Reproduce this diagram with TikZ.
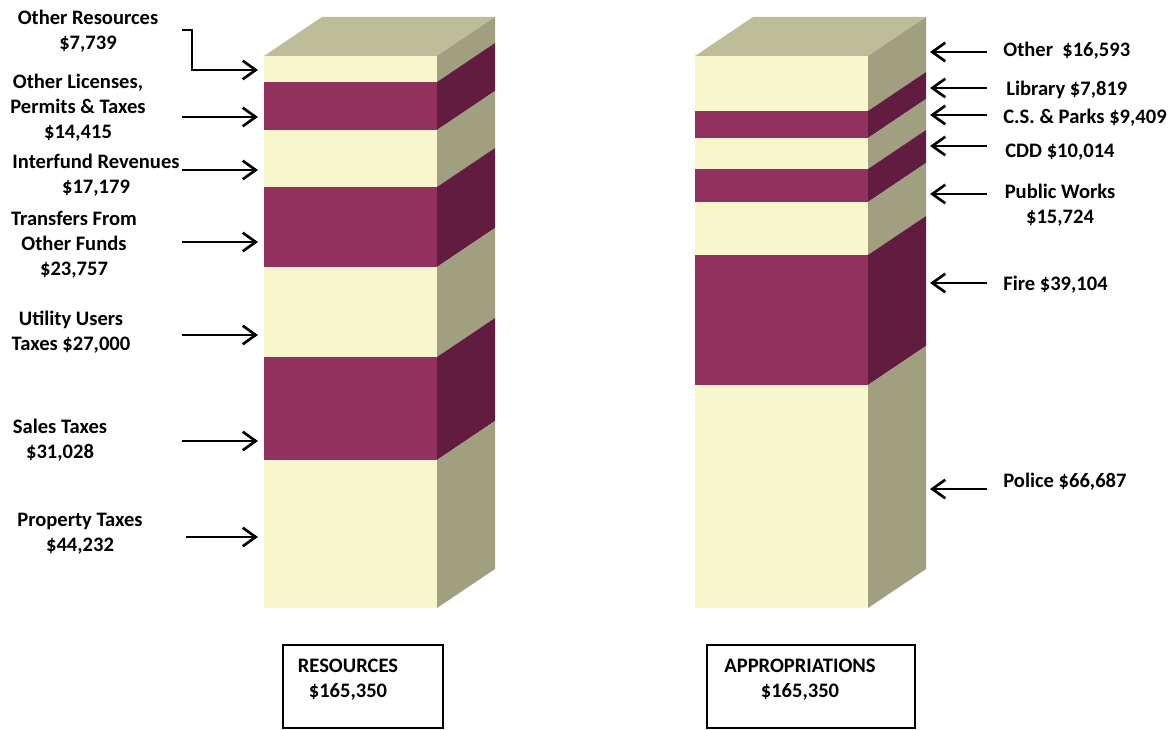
\documentclass[tikz,border=0pt]{standalone}
\usepackage{fontspec}
\setmainfont{Carlito}
\usetikzlibrary{arrows.meta}
\definecolor{creamfront}{HTML}{F8F6CC}
\definecolor{creamside}{HTML}{A09F80}
\definecolor{plumfront}{HTML}{92305E}
\definecolor{plumside}{HTML}{611C3F}
\definecolor{lidtop}{HTML}{BDBD9A}
\tikzset{
  lab/.style={font=\fontsize{11.7}{14.2}\selectfont\bfseries, align=center, inner sep=0pt},
  rlab/.style={lab, anchor=west},
  arr/.style={-{Straight Barb[length=2.6mm,width=3.7mm,line width=1.5pt]}, line width=1.3pt},
  totbox/.style={draw, line width=0.9pt, minimum width=32mm, minimum height=16.6mm, inner sep=0pt}
}
% one slice of a bar: \slice{left x}{top y}{bottom y}{front}{side}
\newcommand\slice[5]{%
  \fill[#4] (#1,#2) rectangle (#1+173,#3);
  \fill[#5] (#1+173,#2) -- (#1+173,#3) -- (#1+231,#3-39) -- (#1+231,#2-39) -- cycle;
}
\begin{document}
\begin{tikzpicture}[x=0.2mm,y=-0.2mm]
  \useasboundingbox (0,0) rectangle (1173,730);
  % left bar
  \fill[lidtop] (264,56) -- (322,17) -- (495,17) -- (437,56) -- cycle;
  \foreach \ya/\yb/\fr/\sd in {56/82/creamfront/creamside, 82/130/plumfront/plumside,
      130/187/creamfront/creamside, 187/267/plumfront/plumside, 267/357/creamfront/creamside,
      357/460/plumfront/plumside, 460/608/creamfront/creamside}
    {\slice{264}{\ya}{\yb}{\fr}{\sd}}
  % right bar
  \fill[lidtop] (695,56) -- (753,17) -- (926,17) -- (868,56) -- cycle;
  \foreach \ya/\yb/\fr/\sd in {56/111/creamfront/creamside, 111/138/plumfront/plumside,
      138/169/creamfront/creamside, 169/202/plumfront/plumside, 202/255/creamfront/creamside,
      255/385/plumfront/plumside, 385/608/creamfront/creamside}
    {\slice{695}{\ya}{\yb}{\fr}{\sd}}

  % resources labels
  \node[lab] (othres) at (88,31) {Other Resources\\\$7,739};
  \node[lab] (lic) at (78,108) {Other Licenses,\\Permits \& Taxes\\\$14,415};
  \node[lab] (interf) at (96,175) {Interfund Revenues\\\$17,179};
  \node[lab] (transf) at (74,245) {Transfers From\\Other Funds\\\$23,757};
  \node[lab] (util) at (71,332) {Utility Users\\Taxes \$27,000};
  \node[lab] (sales) at (60,440) {Sales Taxes\\\$31,028};
  \node[lab] (prop) at (80,534) {Property Taxes\\\$44,232};

  \coordinate (othres-t) at (182,30);
  \coordinate (othres-h) at (258,70);
  \draw[arr] (othres-t) -| (192,50) |- (othres-h);
  \foreach \nm/\yy/\xx in {lic/117/182, interf/170/182, transf/242/182, util/335/182,
      sales/441/182, prop/537/186}
    {\coordinate (\nm-t) at (\xx,\yy);
     \coordinate (\nm-h) at (258,\yy);
     \draw[arr] (\nm-t) -- (\nm-h);}

  % appropriation labels
  \node[rlab] (other) at (1003,51) {Other\ \ \$16,593};
  \node[rlab] (libr) at (1006,90) {Library \$7,819};
  \node[rlab] (parks) at (1003,118) {C.S. \& Parks \$9,409};
  \node[rlab] (cdd) at (1005,152) {CDD \$10,014};
  \node[lab] (pw) at (1060,205) {Public Works\\\$15,724};
  \node[rlab] (fire) at (1003,285) {Fire \$39,104};
  \node[rlab] (police) at (1003,482) {Police \$66,687};

  \foreach \nm/\yy in {other/52, libr/88, parks/115, cdd/146, pw/194, fire/283, police/489}
    {\coordinate (\nm-t) at (987,\yy);
     \coordinate (\nm-h) at (930,\yy);
     \draw[arr] (\nm-t) -- (\nm-h);}

  % totals
  \node[totbox] (resbox) at (363,686.5) {};
  \node[lab] (restot) at (348,680) {RESOURCES\\\$165,350};
  \node[totbox, minimum width=41.6mm] (appbox) at (811,686.5) {};
  \node[lab] (apptot) at (800,680) {APPROPRIATIONS\\\$165,350};
\end{tikzpicture}
\end{document}
